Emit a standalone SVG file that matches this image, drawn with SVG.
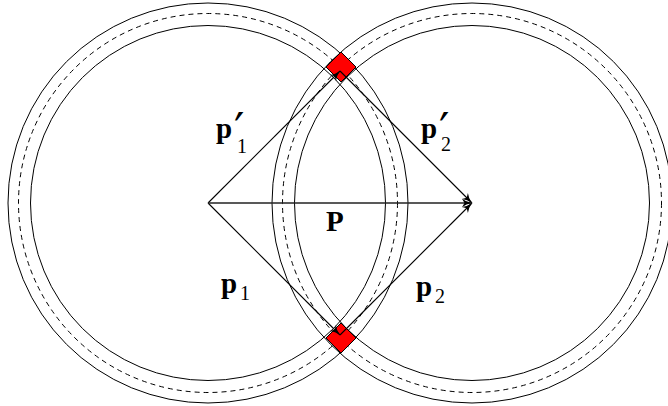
<svg xmlns="http://www.w3.org/2000/svg" width="668" height="406" viewBox="0 0 668 406">
<style>
.c{fill:none;stroke:#000;stroke-width:1}
.d{fill:none;stroke:#000;stroke-width:1;stroke-dasharray:5 4}
.v{fill:none;stroke:#000;stroke-width:1.1;marker-end:url(#ah)}
.sq{fill:#f00;stroke:#000;stroke-width:1}
.t{font-family:"Liberation Serif",serif;font-weight:bold;font-size:29px;fill:#000}
.s{font-family:"Liberation Serif",serif;font-weight:normal;font-size:20px}
.pr{font-family:"DejaVu Serif",serif;font-weight:normal;font-size:46px}
</style>
<defs>
<marker id="ah" markerWidth="12" markerHeight="10" refX="10" refY="5" orient="auto" markerUnits="userSpaceOnUse">
<path d="M0,0.8 Q4,4 10,5 Q4,6 0,9.2 L2.5,5 Z" fill="#000"/>
</marker>
</defs>
<g id="circle-left">
<circle class="c" cx="208" cy="203" r="200"/>
<circle class="d" cx="208" cy="203" r="189.5"/>
<circle class="c" cx="208" cy="203" r="177.5"/>
</g>
<g id="circle-right">
<circle class="c" cx="472" cy="203" r="200"/>
<circle class="d" cx="472" cy="203" r="189.5"/>
<circle class="c" cx="472" cy="203" r="177.5"/>
</g>
<g id="square-top"><path class="sq" d="M341,52 L356,67 L341,82 L326,67 Z"/></g>
<g id="square-bottom"><path class="sq" d="M341,323 L356,338 L341,353 L326,338 Z"/></g>
<g id="connectors">
<line class="v" x1="208" y1="203" x2="340" y2="71"/>
<line class="v" x1="340" y1="71" x2="472" y2="203"/>
<line class="v" x1="208" y1="203" x2="340" y2="335"/>
<line class="v" x1="340" y1="335" x2="472" y2="203"/>
<line class="v" x1="208" y1="203" x2="472" y2="203" style="stroke-width:1.6;stroke:#222"/>
</g>
<g id="label-p1prime"><text class="t" x="216" y="138">p<tspan class="pr" x="234" y="146">′</tspan><tspan class="s" x="237" y="153">1</tspan></text></g>
<g id="label-p2prime"><text class="t" x="421" y="138">p<tspan class="pr" x="439" y="146">′</tspan><tspan class="s" x="441" y="151">2</tspan></text></g>
<g id="label-P"><text class="t" x="326" y="231">P</text></g>
<g id="label-p1"><text class="t" x="221" y="293">p<tspan class="s" x="240" y="300">1</tspan></text></g>
<g id="label-p2"><text class="t" x="416" y="296">p<tspan class="s" x="435" y="303">2</tspan></text></g>
</svg>
